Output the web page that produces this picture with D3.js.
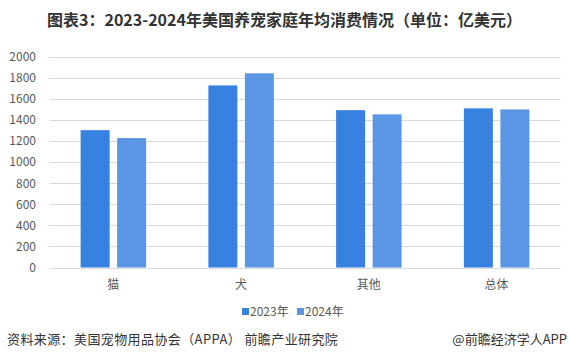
<!DOCTYPE html>
<html><head><meta charset="utf-8">
<script src="https://cdn.jsdelivr.net/npm/d3@7/dist/d3.min.js"></script>
<style>body{margin:0;background:#fff;}svg{display:block;font-family:"Microsoft YaHei","Noto Sans CJK SC",sans-serif;}</style>
</head><body>
<svg id="c" width="569" height="363"></svg>
<script>
const categories = ["猫", "犬", "其他", "总体"];
const seriesNames = ["2023年", "2024年"];
const values2023 = [1305, 1730, 1495, 1512];
const values2024 = [1230, 1845, 1455, 1502];
const yTicks = [0, 200, 400, 600, 800, 1000, 1200, 1400, 1600, 1800, 2000];
const colors = ["#3781E1", "#5B96E4"];

const svg = d3.select("#c");
const W = 569, H = 363;
const m = {left: 49.5, right: 8.5, top: 57, bottom: 95.5};
const x0 = d3.scaleBand().domain(categories).range([m.left, W - m.right]).paddingInner(0).paddingOuter(0);
const y = d3.scaleLinear().domain([0, 2000]).range([H - m.bottom, m.top]);
const series = [values2023, values2024];
const barW = 29, gap = 7.5;

// gridlines
svg.append("g").selectAll("line").data(yTicks).join("line")
  .attr("x1", m.left).attr("x2", W - m.right)
  .attr("y1", d => Math.round(y(d)) + 0.5).attr("y2", d => Math.round(y(d)) + 0.5)
  .attr("stroke", "#d9d9d9").attr("stroke-width", 1);

// y labels
svg.append("g").selectAll("text").data(yTicks).join("text")
  .attr("x", 36).attr("y", d => y(d)).attr("dy", "0.35em")
  .attr("text-anchor", "end").attr("font-size", 12).attr("fill", "#595959")
  .text(d => d);

// bars
series.forEach((vals, si) => {
  svg.append("g").selectAll("rect").data(categories).join("rect")
    .attr("x", (c) => x0(c) + x0.bandwidth() / 2 + (si === 0 ? -(barW + gap / 2) : gap / 2))
    .attr("width", barW)
    .attr("y", (c, i) => y(vals[i]))
    .attr("height", (c, i) => y(0) - y(vals[i]))
    .attr("fill", colors[si]);
});

// x labels
svg.append("g").selectAll("text").data(categories).join("text")
  .attr("x", c => x0(c) + x0.bandwidth() / 2).attr("y", 289)
  .attr("text-anchor", "middle").attr("font-size", 12).attr("fill", "#595959")
  .text(c => c);

// title
svg.append("text").attr("x", 284.5).attr("y", 26).attr("text-anchor", "middle")
  .attr("font-size", 16).attr("font-weight", "bold").attr("fill", "#333")
  .text("图表3：2023-2024年美国养宠家庭年均消费情况（单位：亿美元）");

// legend
const lg = svg.append("g");
const legendX = [242, 297];
seriesNames.forEach((n, i) => {
  lg.append("rect").attr("x", legendX[i]).attr("y", 308).attr("width", 7).attr("height", 7).attr("fill", colors[i]);
  lg.append("text").attr("x", legendX[i] + 8).attr("y", 316).attr("font-size", 12).attr("fill", "#595959").text(n);
});

// footer
svg.append("text").attr("x", 7).attr("y", 344).attr("font-size", 13).attr("letter-spacing", 0.4).attr("fill", "#333")
  .text("资料来源：美国宠物用品协会（APPA） 前瞻产业研究院");
svg.append("text").attr("x", 567).attr("y", 344).attr("text-anchor", "end").attr("font-size", 13).attr("fill", "#333")
  .text("@前瞻经济学人APP");
</script>
</body></html>
